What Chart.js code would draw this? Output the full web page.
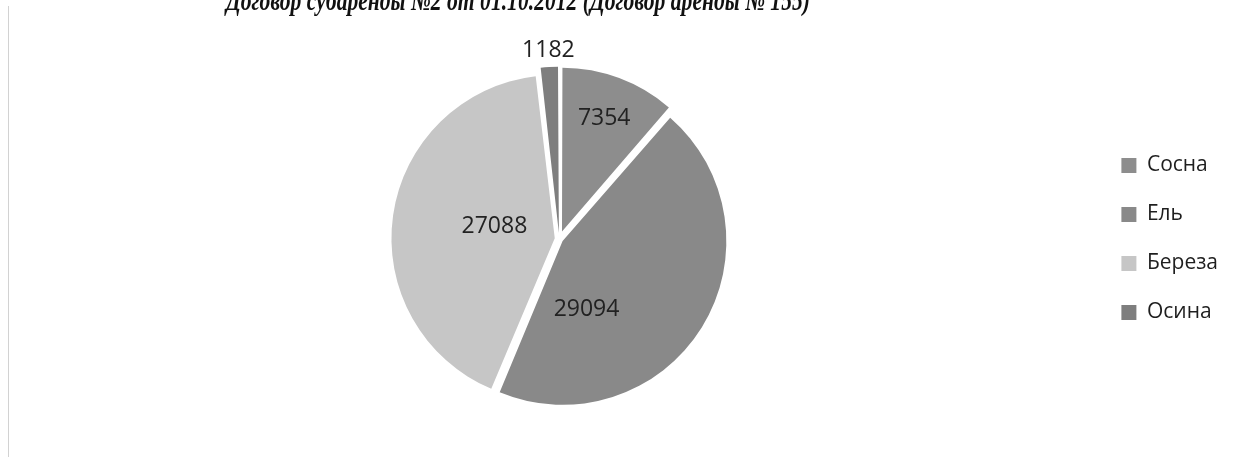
<!DOCTYPE html>
<html><head><meta charset="utf-8">
<script src="https://cdn.jsdelivr.net/npm/chart.js@4"></script>
<style>
html,body{margin:0;padding:0;background:#fff;}
#wrap{position:relative;width:1236px;height:457px;overflow:hidden;}
#frame{position:absolute;left:8px;top:6px;bottom:0;border-left:1px solid #d2d2d2;}
canvas{position:absolute;left:0;top:0;}
</style></head><body>
<div id="wrap"><canvas id="c" width="1236" height="457"></canvas><div id="frame"></div></div>
<script>
const titleText = "Договор субаренды №2 от 01.10.2012 (Договор аренды № 155)";
const categories = ["Сосна", "Ель", "Береза", "Осина"];
const values = [7354, 29094, 27088, 1182];
const colors = ["#8d8d8d", "#898989", "#c6c6c6", "#7e7e7e"];
const sliceOffsets = [32, 16, 18, 24];
// label placement relative to each slice: fraction of radius and angular shift (deg)
const labelRadius = [0.80, 0.47, 0.41, 1.17];
const labelShift = [0, 37, 3, 0];

const valueLabels = {
  id: 'valueLabels',
  afterDatasetsDraw(chart) {
    const ctx = chart.ctx;
    const meta = chart.getDatasetMeta(0);
    ctx.save();
    ctx.font = '23px "Open Sans"';
    ctx.fillStyle = '#222';
    ctx.textAlign = 'center';
    ctx.textBaseline = 'middle';
    meta.data.forEach((arc, i) => {
      const p = arc.getProps(['x', 'y', 'startAngle', 'endAngle', 'outerRadius'], true);
      const mid = (p.startAngle + p.endAngle) / 2 + labelShift[i] * Math.PI / 180;
      const r = p.outerRadius * labelRadius[i];
      ctx.fillText(String(values[i]), p.x + Math.cos(mid) * r, p.y + Math.sin(mid) * r);
    });
    ctx.restore();
  }
};

const cutTitle = {
  id: 'cutTitle',
  afterDraw(chart) {
    const ctx = chart.ctx;
    ctx.save();
    ctx.font = 'bold italic 29px "Liberation Serif"';
    ctx.fillStyle = '#111';
    ctx.textAlign = 'center';
    ctx.textBaseline = 'alphabetic';
    ctx.fillText(titleText, 518, 10, 584);
    ctx.restore();
  }
};

new Chart(document.getElementById('c'), {
  type: 'pie',
  data: {
    labels: categories,
    datasets: [{
      data: values,
      backgroundColor: colors,
      borderWidth: 0,
      offset: sliceOffsets
    }]
  },
  options: {
    responsive: false,
    animation: false,
    events: [],
    layout: { padding: { left: 25, right: 8, top: 62, bottom: 41 } },
    plugins: {
      title: { display: false },
      tooltip: { enabled: false },
      legend: {
        position: 'right',
        align: 'center',
        labels: {
          font: { family: '"Open Sans"', size: 21 },
          color: '#1e1e1e',
          boxWidth: 15,
          boxHeight: 15,
          padding: 28
        }
      }
    }
  },
  plugins: [valueLabels, cutTitle]
});
</script>
</body></html>
